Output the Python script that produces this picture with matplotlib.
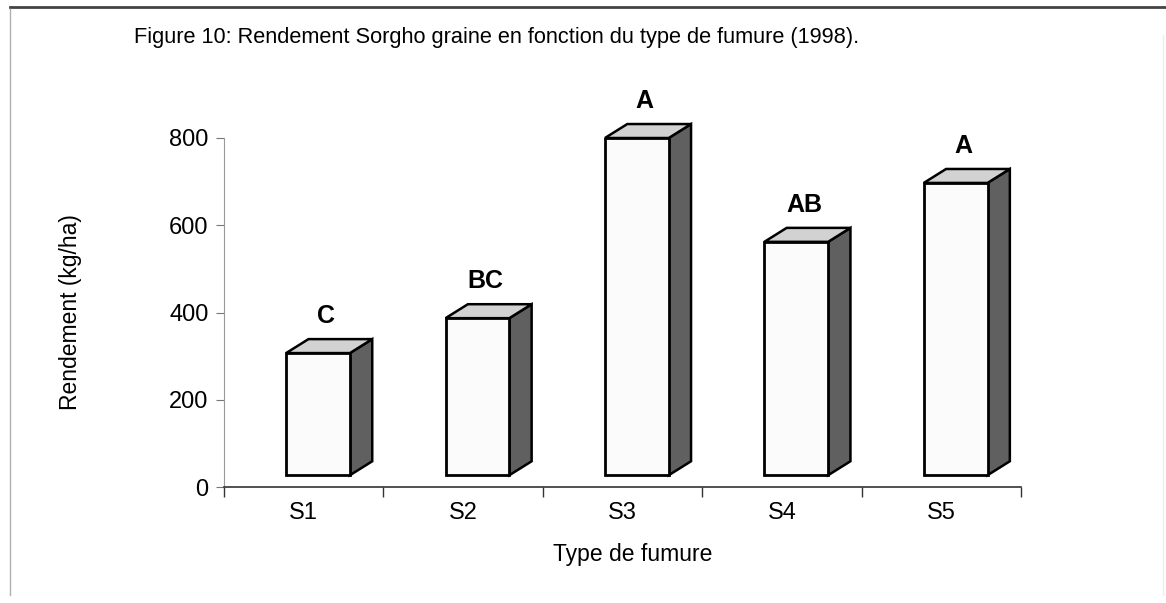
import numpy as np
import matplotlib.pyplot as plt
from matplotlib.patches import Polygon
from matplotlib.lines import Line2D

plt.rcParams['font.family'] = ['Liberation Sans', 'DejaVu Sans']

# data
categories = ["S1", "S2", "S3", "S4", "S5"]
rendement = [307, 387, 800, 562, 697]
groupes = ["C", "BC", "A", "AB", "A"]
yticks = [0, 200, 400, 600, 800]

# 3D look of the bars (data units)
base = 27
w_left, w_right = -0.11, 0.29
dx, dy = 0.14, 32

fig = plt.figure(figsize=(11.66, 6.03), dpi=100)
ax = fig.add_axes([224 / 1166, 1 - 487 / 603, (1021 - 224) / 1166, (487 - 138) / 603])

x = np.arange(len(categories))
for i, v in enumerate(rendement):
    xl = x[i] + w_left
    xr = x[i] + w_right
    # side face
    side = Polygon([(xr, base), (xr + dx, base + dy), (xr + dx, v + dy), (xr, v)],
                   closed=True, facecolor="#606060", edgecolor="black", lw=1.8,
                   clip_on=False, zorder=2)
    ax.add_patch(side)
    # top face
    top = Polygon([(xl, v), (xr, v), (xr + dx, v + dy), (xl + dx, v + dy)],
                  closed=True, facecolor="#d2d2d2", edgecolor="black", lw=1.8,
                  clip_on=False, zorder=2)
    ax.add_patch(top)
    # letter of the statistical group
    ax.annotate(groupes[i], (x[i] + 0.14, v + dy), xytext=(0, 8),
                textcoords="offset points", ha="center", va="bottom",
                fontsize=18, fontweight="bold", annotation_clip=False)

# front faces
ax.bar(x + (w_left + w_right) / 2, np.array(rendement) - base, bottom=base,
       width=w_right - w_left, color="#fbfbfb", edgecolor="black", lw=2, zorder=3)

ax.set_xlim(-0.5, len(categories) - 0.5)
ax.set_ylim(0, 800)
ax.set_yticks(yticks)
ax.set_xticks(x)
ax.set_xticklabels(categories)
ax.set_xticks(np.arange(len(categories) + 1) - 0.5, minor=True)
ax.tick_params(axis="x", which="major", length=0, pad=11, labelsize=17)
ax.tick_params(axis="x", which="minor", length=7, width=1, direction="out", color="#333333")
ax.tick_params(axis="y", length=6, width=0.8, color="#777777", labelsize=17, pad=5)

for s in ["top", "right"]:
    ax.spines[s].set_visible(False)
ax.spines["left"].set_color("#9a9a9a")
ax.spines["bottom"].set_color("#333333")
ax.spines["bottom"].set_linewidth(1.2)

ax.set_xlabel("Type de fumure", fontsize=16.5)
ax.xaxis.set_label_coords((633 - 224) / 797, -(555 - 487) / 349)
ax.xaxis.label.set_va("center")
ax.set_ylabel("Rendement (kg/ha)", fontsize=16.5)
ax.yaxis.set_label_coords(-(224 - 70) / 797, 0.5)
ax.yaxis.label.set_va("center")

fig.text(497 / 1166, 1 - 37 / 603,
         "Figure 10: Rendement Sorgho graine en fonction du type de fumure (1998).",
         ha="center", va="center", fontsize=15.7)

# page frame of the scanned figure
fig.add_artist(Line2D([10 / 1166, 1], [1 - 7 / 603] * 2, color="#444444", lw=2))
fig.add_artist(Line2D([10 / 1166] * 2, [1 - 9 / 603, 1 - 595 / 603], color="#b0b0b0", lw=1))
fig.add_artist(Line2D([1163 / 1166] * 2, [1 - 35 / 603, 1 - 595 / 603], color="#ececec", lw=1))

fig.savefig("out.png", dpi=100)
